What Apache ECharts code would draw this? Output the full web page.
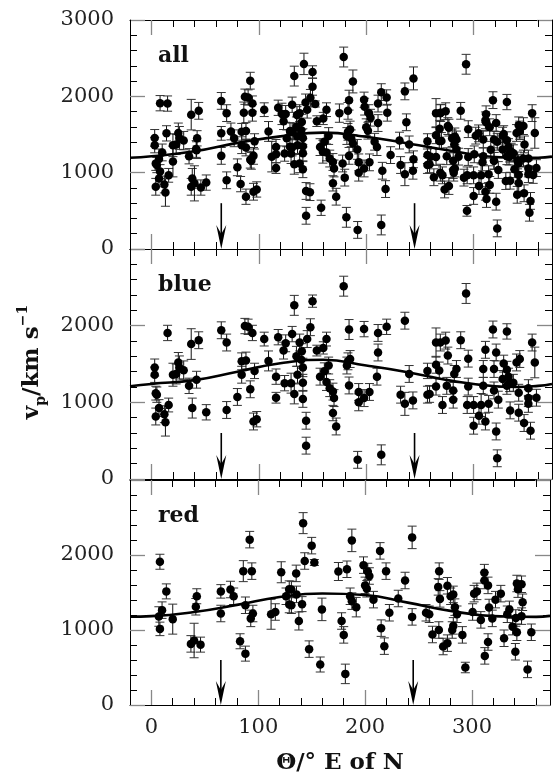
<!DOCTYPE html>
<html><head><meta charset="utf-8">
<script src="https://cdn.jsdelivr.net/npm/echarts@6/dist/echarts.min.js"></script>
<style>html,body{margin:0;padding:0;background:#fff}#c{width:553px;height:776px}</style>
</head><body><div id="c"></div>
<script>
// ---- data: [theta (deg E of N), v_p (km/s), error] ----
const blue = [
[3,1455,110],[3,1360,100],[4,1120,90],[5,1100,100],[7,925,110],[4,815,110],[12,845,110],[13,740,180],[16,965,90],[15,1905,100],
[20,1360,150],[23,1370,130],[25,1520,130],[26,1455,150],[30,1420,120],[35,1215,100],[42,1295,110],[37,1760,200],[44,1810,110],[38,925,130],
[51,870,100],[65,1940,110],[70,1780,110],[70,900,110],[80,1070,110],[84,1360,110],[84,1535,110],[88,1545,110],[92,1170,110],[96,1410,100],
[87,1995,100],[90,1985,100],[94,1905,100],[95,750,110],[98,780,100],[105,1825,90],[109,1540,130],[116,1335,100],[116,1060,70],[118,1850,100],
[123,1675,110],[124,1250,100],[125,1770,110],[131,1890,100],[130,1250,130],[133,1110,130],[133,2265,130],[150,2320,80],[138,1780,110],[140,1665,100],
[135,1600,130],[139.5,1555,110],[141,1455,120],[145,1825,110],[148,1980,110],[136,1360,110],[141,1255,110],[141,1045,110],[144,760,110],[144,435,110],
[154,1675,70],[160,1710,80],[163,1825,90],[157,1335,110],[161,1405,110],[165,1480,110],[163,1265,110],[166,1185,110],[169,1140,110],[170,1055,110],
[169,860,100],[172,685,110],
[179,2515,130],[184,1950,130],[183,1535,110],[185,1565,110],[182,1480,110],[184,1220,110],[193,1135,110],[198,1055,110],[193,1000,110],[203,1135,110],
[198,1955,100],[211,1905,110],[219,1985,100],[211,1650,110],[210,1335,110],[192,250,110],[214,315,130],[236,2065,110],[232,1100,110],[236,980,150],
[243.5,1025,110],[240,1370,110],[257,1410,100],[257,1100,110],[259,1110,110],[265,1780,190],[269,1780,110],[274,1805,110],[276,1610,110],[265,1490,110],
[268,1415,110],[265,1205,110],[275,1215,110],[271,965,110],[281,1155,110],[282,1370,110],[284,1435,110],[281,1035,110],[288,1810,110],[295,1570,110],
[295,1205,110],[294,965,110],[300,695,110],[300,965,110],[305,825,110],[307,965,150],[311,1685,110],[309,1435,110],[309,1215,110],[311,750,110],
[314,980,110],[293,2420,130],[318,1950,110],[321,1650,110],[319,1435,110],[319,1155,110],[323,1035,110],[321,620,110],[322,270,110],[328,1505,110],
[331,1425,110],[327,1305,110],[331,1925,100],[332.5,1335,110],[333.5,1250,110],[331,1215,110],[337,1255,110],[334,895,110],[340,1520,110],[343,1565,110],
[342,1125,110],[342,865,110],[347,730,110],[351,1185,110],[351,1055,110],[351,980,110],[353,630,110],[354.5,1780,110],[357,1520,200],[358.5,1060,110]
];
const red = [
[8,1910,100],[14,1515,100],[10,1265,110],[7,1180,130],[8,1015,90],[20,1145,200],[37,815,110],[40,860,230],[46,805,100],[42.5,1450,100],
[41.6,1310,110],[65,1515,90],[65,1220,110],[74,1540,110],[77,1450,110],[86,1785,140],[94,1785,110],[92,2205,110],[88,1330,110],[95,1220,110],
[93,1155,110],[83,850,100],[88,685,100],[112,1210,200],[116,1240,110],[121.5,1770,140],[126,1450,110],[129,1545,110],[131,1540,110],[129,1340,110],
[131,1330,110],[135.8,1475,110],[135.5,1755,110],[141,1345,100],[138,1120,120],[142,2425,140],[150,2125,110],[143.5,1920,110],[152.5,1900,40],[147.6,745,110],
[158,540,100],[159.6,1275,150],[175,1780,120],[178,1120,110],[180,935,110],[181.5,415,130],
[183,1810,110],[187.6,2195,150],[186,1450,110],[187.6,1385,110],[191.7,1305,130],[198.5,1865,110],[202.5,1780,110],[204,1720,110],[200,1595,110],[201.6,1550,110],
[207.8,1405,110],[214,2055,110],[219.6,1785,110],[215,1025,110],[218,785,110],[222.7,1230,110],[231,1420,110],[237.4,1660,110],[244,2235,150],[244,1175,110],
[257,1230,110],[260,1210,110],[263,940,110],[269.3,1785,110],[268.4,1575,110],[270,1415,110],[269,1000,110],[273,780,110],[277,825,110],[277,1590,110],
[280,1450,110],[282.5,1475,110],[284,1305,110],[286,1210,110],[282.5,1055,110],[281.5,1000,110],[291,935,110],[293.8,500,70],[300.6,1240,110],[302,1485,110],
[304.6,1515,110],[308.3,1135,110],[311.6,1765,110],[311.6,1660,110],[315,1595,110],[316,1300,110],[319,1155,110],[315,840,110],[312,655,110],[322,1405,110],
[327,1485,110],[330,890,110],[333,1210,110],[335,1275,110],[338,1045,110],[342,1620,110],[343,1545,110],[346.4,1610,110],[342,970,110],[341,1160,110],
[340.6,710,110],[346.4,1185,110],[347.4,1370,110],[352,475,110],[355.5,970,110]
];
// fitted curves
const curveX     = [-20, 0, 40, 80, 120, 160, 200, 240, 280, 320, 340, 360, 373];
const allCurve   = [1195, 1215, 1280, 1390, 1475, 1525, 1470, 1380, 1285, 1205, 1195, 1195, 1210];
const blueCurve  = [1210, 1240, 1290, 1400, 1510, 1555, 1480, 1390, 1280, 1210, 1200, 1215, 1240];
const redCurve   = [1178, 1185, 1240, 1335, 1440, 1486, 1466, 1365, 1255, 1185, 1178, 1175, 1188];
const arrowX = [65, 245];
const arrowTop = 600;
const panelNames = ['all', 'blue', 'red'];
const xMajor = [0, 100, 200, 300];
const yLabels = [[0,1000,2000,3000],[0,1000,2000],[0,1000,2000]];

// ---- chart ----
const FONT = 'DejaVu Serif';
const panels = [
  {top:20, height:229, pts: blue.concat(red), curve: allCurve},
  {top:249, height:230, pts: blue, curve: blueCurve},
  {top:480, height:229, pts: red, curve: redCurve}
];
const grids=[], xAxes=[], yAxes=[], series=[], graphics=[];
const XMIN=-20, XMAX=373;
function errRender(params, api){
  const x=api.value(0), y=api.value(1), e=api.value(2);
  const hi=api.coord([x,y+e]), lo=api.coord([x,y-e]);
  const w=4.5, st={stroke:'#111', lineWidth:1};
  return {type:'group', children:[
    {type:'line', shape:{x1:hi[0],y1:hi[1],x2:lo[0],y2:lo[1]}, style:st},
    {type:'line', shape:{x1:hi[0]-w,y1:hi[1],x2:hi[0]+w,y2:hi[1]}, style:{stroke:'#333',lineWidth:1}},
    {type:'line', shape:{x1:lo[0]-w,y1:lo[1],x2:lo[0]+w,y2:lo[1]}, style:{stroke:'#333',lineWidth:1}}
  ]};
}
function arrowRender(params, api){
  const x=api.value(0);
  const t=api.coord([x, api.value(1)]), b=api.coord([x, 0]);
  return {type:'group', children:[
    {type:'line', shape:{x1:t[0],y1:t[1],x2:b[0],y2:b[1]-8}, style:{stroke:'#000', lineWidth:1.6}},
    {type:'polygon', shape:{points:[[b[0],b[1]],[b[0]-5,b[1]-24],[b[0],b[1]-15],[b[0]+5,b[1]-24]]}, style:{fill:'#000'}}
  ]};
}
panels.forEach((p,i)=>{
  grids.push({left:130, width:422, top:p.top, height:p.height});
  const isBottom = i===2;
  const baseX = {gridIndex:i, type:'value', min:XMIN, max:XMAX, splitLine:{show:false}};
  xAxes.push(Object.assign({}, baseX, {position:'bottom', interval:20,
    axisLine:{show:true, onZero:false, lineStyle:{color:'#000', width:1}},
    axisTick:{inside:true, length:7, lineStyle:{color:'#000'}},
    axisLabel:{show:isBottom, margin:12, color:'#222', fontFamily:FONT, fontSize:21,
      formatter:v=> xMajor.indexOf(v)>=0 ? String(v) : ''},
    name: isBottom ? 'Θ/° E of N' : '', nameLocation:'middle', nameGap:47,
    nameTextStyle:{fontFamily:FONT, fontWeight:'bold', fontSize:23, color:'#111'}
  }));
  xAxes.push(Object.assign({}, baseX, {position:'top', interval:20,
    axisLine:{show:true, onZero:false, lineStyle:{color:'#000', width:1}},
    axisTick:{inside:true, length:7, lineStyle:{color:'#000'}}, axisLabel:{show:false}}));
  ['bottom','top'].forEach(pos=>{
    xAxes.push(Object.assign({}, baseX, {position:pos,
      axisLine:{show:false, onZero:false},
      axisTick:{inside:true, length:15, customValues:xMajor, lineStyle:{color:'#888', width:1.3}},
      axisLabel:{show:false}}));
  });
  const baseY = {gridIndex:i, type:'value', min:0, max:3000, splitLine:{show:false}};
  const labs = yLabels[i];
  yAxes.push(Object.assign({}, baseY, {position:'left', interval:200,
    axisLine:{show:true, onZero:false, lineStyle:{color:'#000', width:1}},
    axisTick:{inside:true, length:7, lineStyle:{color:'#000'}},
    axisLabel:{margin:16, color:'#222', fontFamily:FONT, fontSize:21,
      formatter:v=> labs.indexOf(v)>=0 ? String(v) : ''}
  }));
  yAxes.push(Object.assign({}, baseY, {position:'right', interval:200,
    axisLine:{show:true, onZero:false, lineStyle:{color:'#000', width:1}},
    axisTick:{inside:true, length:7, lineStyle:{color:'#000'}}, axisLabel:{show:false}}));
  ['left','right'].forEach(pos=>{
    yAxes.push(Object.assign({}, baseY, {position:pos, interval:1000,
      axisLine:{show:false, onZero:false},
      axisTick:{inside:true, length:15, lineStyle:{color:'#888', width:1.3}},
      axisLabel:{show:false}}));
  });
  const xi=4*i, yi=4*i;
  series.push({type:'custom', xAxisIndex:xi, yAxisIndex:yi, renderItem:errRender,
    data:p.pts, encode:{x:0,y:1}, z:2, silent:true});
  series.push({type:'scatter', xAxisIndex:xi, yAxisIndex:yi, data:p.pts.map(d=>[d[0],d[1]]),
    symbol:'circle', symbolSize:8.5, itemStyle:{color:'#000', opacity:1}, z:3, silent:true});
  series.push({type:'line', xAxisIndex:xi, yAxisIndex:yi, data:curveX.map((x,k)=>[x,p.curve[k]]),
    smooth:true, showSymbol:false, symbol:'none', lineStyle:{color:'#000', width:2.6}, z:4, silent:true});
  series.push({type:'custom', xAxisIndex:xi, yAxisIndex:yi, renderItem:arrowRender,
    data:arrowX.map(x=>[x, arrowTop]), encode:{x:0,y:1}, z:5, silent:true});
  graphics.push({type:'text', left:158, top:p.top+25,
    style:{text:panelNames[i], font:'bold 22px "DejaVu Serif"', fill:'#111'}});
});
// rotated y-axis title
graphics.push({type:'text', x:32, y:362, rotation:Math.PI/2,
  style:{text:'{m|v}{sub|p}{m|/km s}{sup|−1}', align:'center', verticalAlign:'middle',
    rich:{
      m:{fontFamily:FONT, fontWeight:'bold', fontSize:23, fill:'#111', lineHeight:32, verticalAlign:'middle'},
      sub:{fontFamily:FONT, fontWeight:'bold', fontSize:14, fill:'#111', lineHeight:14, verticalAlign:'bottom'},
      sup:{fontFamily:FONT, fontWeight:'bold', fontSize:14, fill:'#111', lineHeight:14, verticalAlign:'top'}
    }}});
const chart = echarts.init(document.getElementById('c'), null, {renderer:'canvas'});
chart.setOption({
  backgroundColor:'#fff', animation:false,
  grid:grids, xAxis:xAxes, yAxis:yAxes, series:series, graphic:graphics
});
</script></body></html>
